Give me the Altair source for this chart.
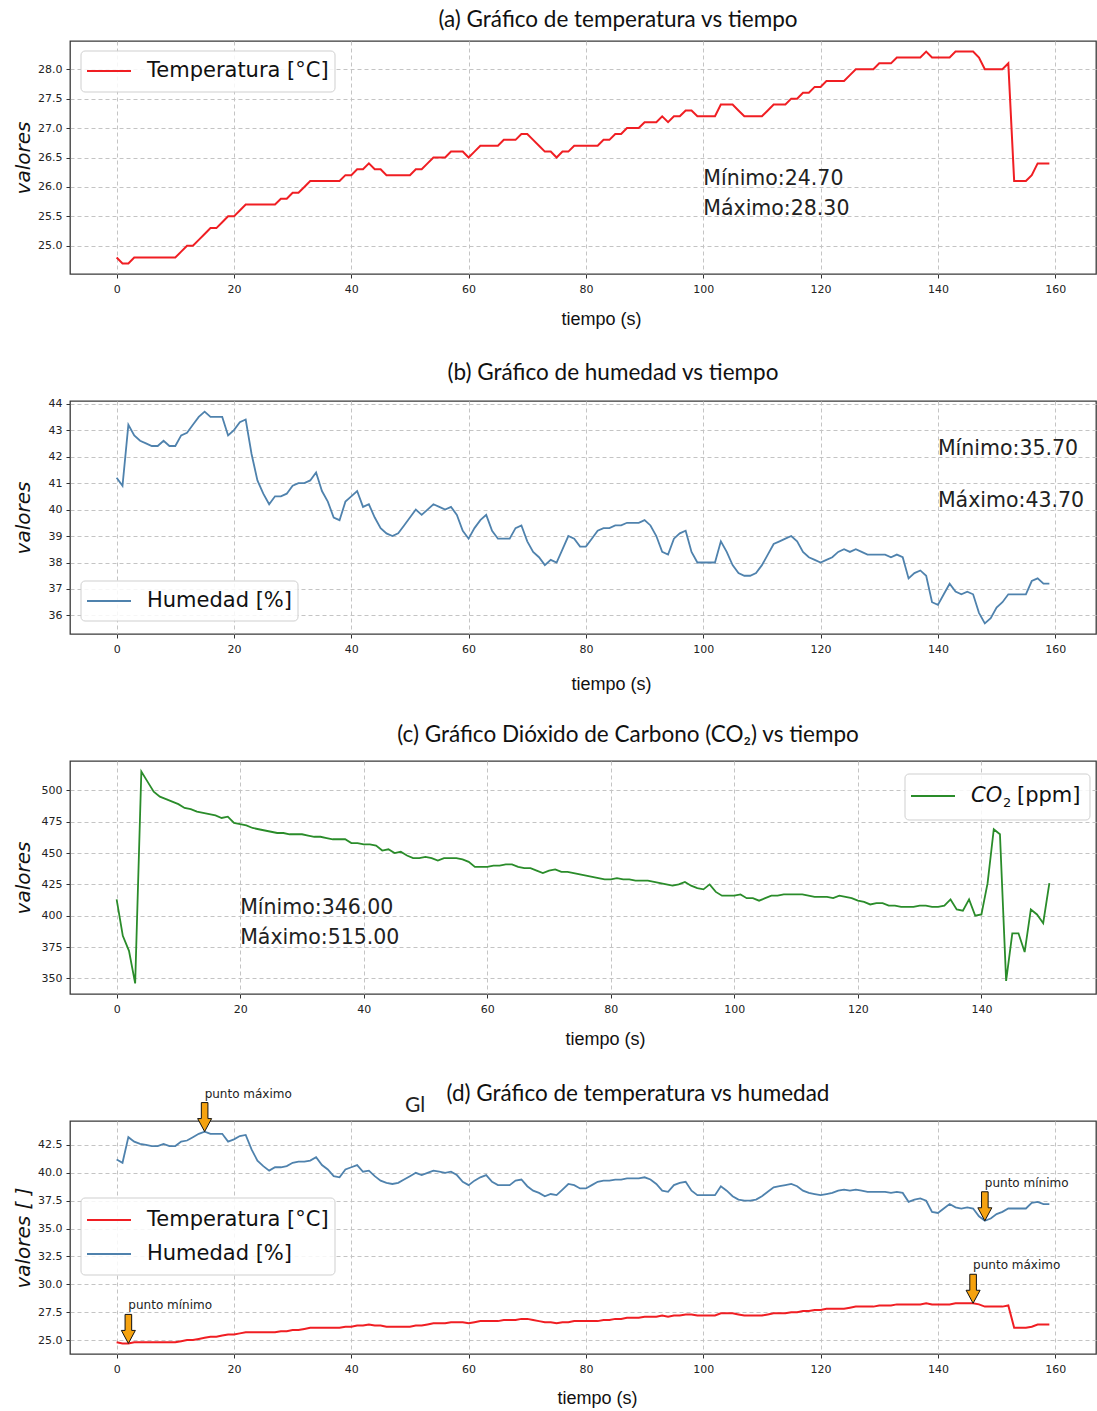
import altair as alt
import pandas as pd

# ---------------- data ----------------
tiempo = list(range(160))
temperatura = [
    24.8, 24.7, 24.7, 24.8, 24.8, 24.8, 24.8, 24.8, 24.8, 24.8,
    24.8, 24.9, 25.0, 25.0, 25.1, 25.2, 25.3, 25.3, 25.4, 25.5,
    25.5, 25.6, 25.7, 25.7, 25.7, 25.7, 25.7, 25.7, 25.8, 25.8,
    25.9, 25.9, 26.0, 26.1, 26.1, 26.1, 26.1, 26.1, 26.1, 26.2,
    26.2, 26.3, 26.3, 26.4, 26.3, 26.3, 26.2, 26.2, 26.2, 26.2,
    26.2, 26.3, 26.3, 26.4, 26.5, 26.5, 26.5, 26.6, 26.6, 26.6,
    26.5, 26.6, 26.7, 26.7, 26.7, 26.7, 26.8, 26.8, 26.8, 26.9,
    26.9, 26.8, 26.7, 26.6, 26.6, 26.5, 26.6, 26.6, 26.7, 26.7,
    26.7, 26.7, 26.7, 26.8, 26.8, 26.9, 26.9, 27.0, 27.0, 27.0,
    27.1, 27.1, 27.1, 27.2, 27.1, 27.2, 27.2, 27.3, 27.3, 27.2,
    27.2, 27.2, 27.2, 27.4, 27.4, 27.4, 27.3, 27.2, 27.2, 27.2,
    27.2, 27.3, 27.4, 27.4, 27.4, 27.5, 27.5, 27.6, 27.6, 27.7,
    27.7, 27.8, 27.8, 27.8, 27.8, 27.9, 28.0, 28.0, 28.0, 28.0,
    28.1, 28.1, 28.1, 28.2, 28.2, 28.2, 28.2, 28.2, 28.3, 28.2,
    28.2, 28.2, 28.2, 28.3, 28.3, 28.3, 28.3, 28.2, 28.0, 28.0,
    28.0, 28.0, 28.1, 26.1, 26.1, 26.1, 26.2, 26.4, 26.4, 26.4,
]
humedad = [
    41.2, 40.9, 43.2, 42.8, 42.6, 42.5, 42.4, 42.4, 42.6, 42.4,
    42.4, 42.8, 42.9, 43.2, 43.5, 43.7, 43.5, 43.5, 43.5, 42.8,
    43.0, 43.3, 43.4, 42.1, 41.1, 40.6, 40.2, 40.5, 40.5, 40.6,
    40.9, 41.0, 41.0, 41.1, 41.4, 40.7, 40.3, 39.7, 39.6, 40.3,
    40.5, 40.7, 40.1, 40.2, 39.7, 39.3, 39.1, 39.0, 39.1, 39.4,
    39.7, 40.0, 39.8, 40.0, 40.2, 40.1, 40.0, 40.1, 39.8, 39.2,
    38.9, 39.3, 39.6, 39.8, 39.2, 38.9, 38.9, 38.9, 39.3, 39.4,
    38.8, 38.4, 38.2, 37.9, 38.1, 38.0, 38.5, 39.0, 38.9, 38.6,
    38.6, 38.9, 39.2, 39.3, 39.3, 39.4, 39.4, 39.5, 39.5, 39.5,
    39.6, 39.4, 39.0, 38.4, 38.3, 38.9, 39.1, 39.2, 38.4, 38.0,
    38.0, 38.0, 38.0, 38.8, 38.4, 37.9, 37.6, 37.5, 37.5, 37.6,
    37.9, 38.3, 38.7, 38.8, 38.9, 39.0, 38.8, 38.4, 38.2, 38.1,
    38.0, 38.1, 38.2, 38.4, 38.5, 38.4, 38.5, 38.4, 38.3, 38.3,
    38.3, 38.3, 38.2, 38.3, 38.2, 37.4, 37.6, 37.7, 37.5, 36.5,
    36.4, 36.8, 37.2, 36.9, 36.8, 36.9, 36.8, 36.1, 35.7, 35.9,
    36.3, 36.5, 36.8, 36.8, 36.8, 36.8, 37.3, 37.4, 37.2, 37.2,
]
tiempo_co2 = list(range(152))
co2 = [
    413, 384, 372, 346, 515, 507, 499, 495, 493, 491,
    489, 486, 485, 483, 482, 481, 480, 478, 479, 474,
    473, 472, 470, 469, 468, 467, 466, 466, 465, 465,
    465, 464, 463, 463, 462, 461, 461, 461, 458, 458,
    457, 457, 456, 452, 453, 450, 451, 448, 446, 446,
    447, 446, 444, 446, 446, 446, 445, 443, 439, 439,
    439, 440, 440, 441, 441, 439, 438, 438, 436, 434,
    436, 437, 435, 435, 434, 433, 432, 431, 430, 429,
    429, 430, 429, 429, 428, 428, 428, 427, 426, 425,
    424, 425, 427, 424, 422, 421, 425, 419, 416, 416,
    416, 417, 414, 414, 412, 414, 416, 416, 417, 417,
    417, 417, 416, 415, 415, 415, 414, 416, 415, 414,
    412, 411, 409, 410, 410, 408, 408, 407, 407, 407,
    408, 408, 407, 407, 408, 413, 405, 404, 413, 400,
    401, 426, 469, 465, 348, 386, 386, 371, 405, 401,
    394, 426,
]

ticks_x160 = [0, 20, 40, 60, 80, 100, 120, 140, 160]
ticks_x140 = [0, 20, 40, 60, 80, 100, 120, 140]
ticks_temp = [25.0, 25.5, 26.0, 26.5, 27.0, 27.5, 28.0]
ticks_hum = [36, 37, 38, 39, 40, 41, 42, 43, 44]
ticks_co2 = [350, 375, 400, 425, 450, 475, 500]
ticks_mix = [25.0, 27.5, 30.0, 32.5, 35.0, 37.5, 40.0, 42.5]

titulos = [
    "(a) Gráfico de temperatura vs tiempo",
    "(b) Gráfico de humedad vs tiempo",
    "(c) Gráfico Dióxido de Carbono (CO\u2082) vs tiempo",
    "(d) Gráfico de temperatura vs humedad",
]
etiquetas = ["Temperatura [°C]", "Humedad [%]"]

# ---------------- style ----------------
ROJO = "#f01e23"
AZUL = "#4f82ad"
VERDE = "#2a8c2a"
NARANJA = "#f5a20f"
DOC_FONT = "Lato"
AX_FONT = "Liberation Sans"
MPL_FONT = "DejaVu Sans"
W, H = 1026, 233

df_temp = pd.DataFrame({"t": tiempo, "v": temperatura})
df_hum = pd.DataFrame({"t": tiempo, "v": humedad})
df_co2 = pd.DataFrame({"t": tiempo_co2, "v": co2})
one = pd.DataFrame({"k": [0]})


def pad(lo, hi):
    m = (hi - lo) * 0.05
    return [lo - m, hi + m]


def xenc(ticks, dom, tx, ty):
    return alt.X("t:Q", scale=alt.Scale(domain=dom, nice=False, zero=False),
                 axis=alt.Axis(values=ticks, format="d", title="tiempo (s)",
                               titleFont=AX_FONT, titleFontSize=18, titleFontWeight="normal",
                               titleColor="#111", titleX=tx, titleY=ty, titleBaseline="middle",
                               labelFont=MPL_FONT, labelFontSize=11, labelColor="#222",
                               labelPadding=5, tickSize=4, tickColor="#333", labelOverlap=False,
                               grid=True, gridDash=[4, 3], gridColor="#c4c4c4", domain=False))


def yenc(ticks, dom, fmt, title="valores"):
    return alt.Y("v:Q", scale=alt.Scale(domain=dom, nice=False, zero=False),
                 axis=alt.Axis(values=ticks, format=fmt, title=title,
                               titleFont=MPL_FONT, titleFontSize=20, titleFontStyle="italic",
                               titleFontWeight="normal", titleColor="#111", titlePadding=5,
                               minExtent=32, maxExtent=32, labelOverlap=False,
                               labelFont=MPL_FONT, labelFontSize=11, labelColor="#222",
                               labelPadding=4, tickSize=4, tickColor="#333",
                               grid=True, gridDash=[4, 3], gridColor="#c4c4c4", domain=False))


def caja(x0, y0, w, h):
    return alt.Chart(one).mark_rect(cornerRadius=4, fill="white", fillOpacity=0.85,
                                    stroke="#cfcfcf", strokeWidth=1).encode(
        x=alt.value(x0), x2=alt.value(x0 + w), y=alt.value(y0), y2=alt.value(y0 + h))


def muestra(x0, y, color):
    return alt.Chart(one).mark_rule(color=color, strokeWidth=2).encode(
        x=alt.value(x0), x2=alt.value(x0 + 44), y=alt.value(y))


def texto_px(x, y, s, size=21, font=MPL_FONT, style="normal", color="#111", align="left"):
    return alt.Chart(one).mark_text(align=align, baseline="middle", font=font, fontSize=size,
                                    fontStyle=style, color=color, text=s).encode(
        x=alt.value(x), y=alt.value(y))


def texto_dato(xe, ye, t, v, s, size=20.5):
    d = pd.DataFrame({"t": [t], "v": [v], "s": [s]})
    return alt.Chart(d).mark_text(align="left", baseline="middle", font=MPL_FONT,
                                  fontSize=size, color="#222").encode(
        x=xe, y=ye, text="s:N")


def titulo(s, dx, off):
    return alt.Title(s, font=DOC_FONT, fontSize=22.5, fontWeight="normal", color="#111",
                     anchor="middle", frame="group", dx=dx, offset=off)


xd160 = pad(0, 159)
xd151 = pad(0, 151)

# (a) temperatura
xa = xenc(ticks_x160, xd160, 531, 45)
ya = yenc(ticks_temp, pad(min(temperatura), max(temperatura)), ".1f")
linea_a = alt.Chart(df_temp).mark_line(color=ROJO, strokeWidth=2).encode(x=xa, y=ya)
chart_a = alt.layer(
    linea_a,
    texto_dato(xa, ya, 100, 26.14, "Mínimo:%.2f" % min(temperatura)),
    texto_dato(xa, ya, 100, 25.63, "Máximo:%.2f" % max(temperatura)),
    caja(11, 10, 254, 41), muestra(17, 30, ROJO), texto_px(77, 30, etiquetas[0]),
).properties(width=W, height=H, title=titulo(titulos[0], 35, 10))

# (b) humedad
xb = xenc(ticks_x160, xd160, 541, 50)
yb = yenc(ticks_hum, pad(min(humedad), max(humedad)), "d")
linea_b = alt.Chart(df_hum).mark_line(color=AZUL, strokeWidth=1.8).encode(x=xb, y=yb)
chart_b = alt.layer(
    linea_b,
    texto_dato(xb, yb, 140, 42.3, "Mínimo:%.2f" % min(humedad)),
    texto_dato(xb, yb, 140, 40.34, "Máximo:%.2f" % max(humedad)),
    caja(11, 180, 217, 40), muestra(17, 200, AZUL), texto_px(77, 200, etiquetas[1]),
).properties(width=W, height=H, title=titulo(titulos[1], 30, 13))

# (c) CO2
xc = xenc(ticks_x140, xd151, 535, 45)
yc = yenc(ticks_co2, pad(min(co2), max(co2)), "d")
linea_c = alt.Chart(df_co2).mark_line(color=VERDE, strokeWidth=1.8).encode(x=xc, y=yc)
chart_c = alt.layer(
    linea_c,
    texto_dato(xc, yc, 20, 405.8, "Mínimo:%.2f" % min(co2)),
    texto_dato(xc, yc, 20, 381.9, "Máximo:%.2f" % max(co2)),
    caja(835, 13, 185, 46), muestra(841, 35, VERDE),
    texto_px(901, 35, "CO", style="italic"), texto_px(933, 42, "2", size=13),
    texto_px(947, 35, "[ppm]"),
).properties(width=W, height=H, title=titulo(titulos[2], 45, 15))

# (d) temperatura y humedad
xd = xenc(ticks_x160, xd160, 527, 44)
yd = yenc(ticks_mix, pad(min(temperatura), max(humedad)), ".1f", "valores [ ]")
linea_dt = alt.Chart(df_temp).mark_line(color=ROJO, strokeWidth=2).encode(x=xd, y=yd)
linea_dh = alt.Chart(df_hum).mark_line(color=AZUL, strokeWidth=1.8).encode(x=xd, y=yd)

i_hmax = humedad.index(max(humedad))
i_hmin = humedad.index(min(humedad))
puntos = pd.DataFrame({
    "t": [i_hmax, i_hmin, 146, 2],
    "v": [max(humedad), min(humedad), 28.3, 24.7],
    "s": ["punto máximo", "punto mínimo", "punto máximo", "punto mínimo"],
})
flecha = "M0,0L-0.7,-1.3L-0.33,-1.3L-0.33,-2.9L0.33,-2.9L0.33,-1.3L0.7,-1.3Z"
flechas = alt.Chart(puntos).mark_point(shape=flecha, size=400, filled=True, fill=NARANJA,
                                       stroke="#111", strokeWidth=1, opacity=1).encode(
    x=xd, y=yd)
notas = alt.Chart(puntos).mark_text(align="left", baseline="middle", font=MPL_FONT,
                                    fontSize=12, color="#222", dy=-38).encode(
    x=xd, y=yd, text="s:N")
chart_d = alt.layer(
    linea_dt, linea_dh, flechas, notas,
    caja(11, 77, 254, 77), muestra(17, 99, ROJO), texto_px(77, 99, etiquetas[0]),
    muestra(17, 133, AZUL), texto_px(77, 133, etiquetas[1]),
    texto_px(335, -15, "Gl", size=21, font=DOC_FONT, color="#222"),
    texto_px(568, -27, titulos[3], size=22.5, font=DOC_FONT, align="center"),
).properties(width=W, height=H)

chart = alt.vconcat(chart_a, chart_b, chart_c, chart_d, spacing=127, bounds="flush").configure(
    padding={"left": 12, "top": 7, "right": 0, "bottom": 0}
).configure_view(stroke="#3a3a3a", strokeWidth=1.3)

chart.save("out.html", embed_options={"renderer": "svg", "actions": False})
